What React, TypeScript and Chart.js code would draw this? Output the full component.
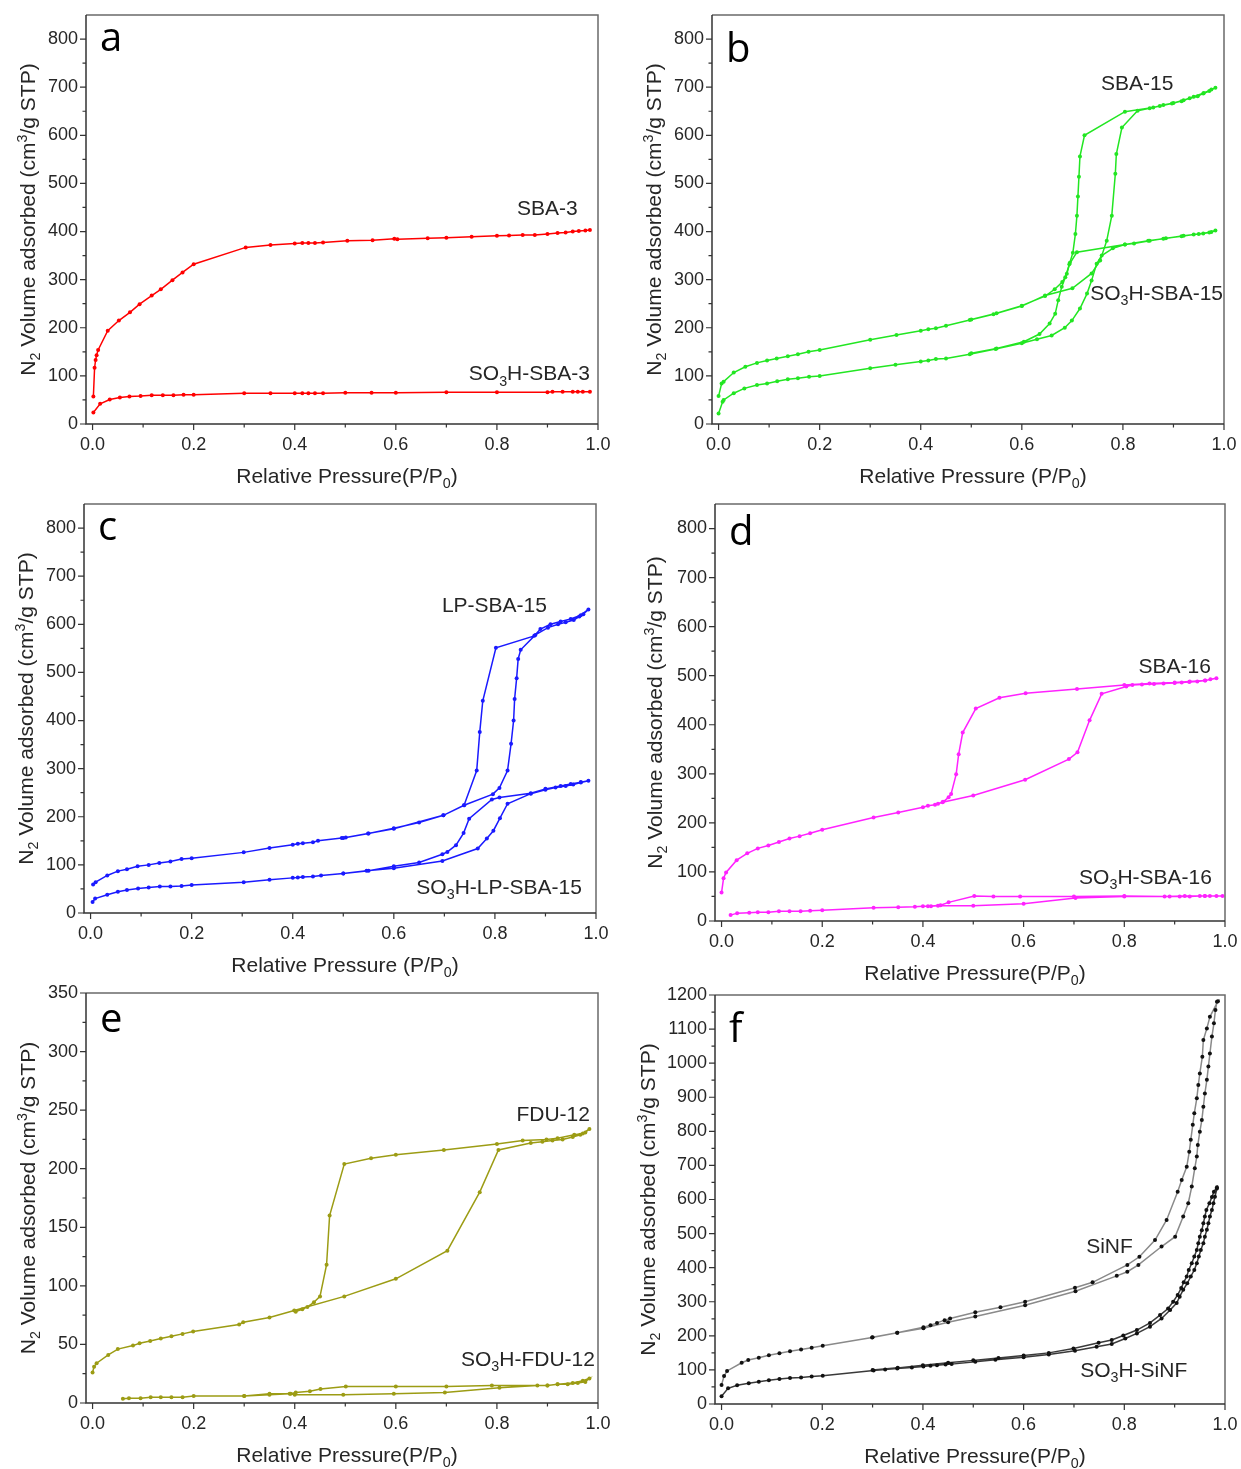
import React, { useEffect, useRef } from 'react';
import { Chart, registerables } from 'chart.js';

Chart.register(...registerables);

const FONT = "'Liberation Sans', Arial, sans-serif";
const LETTER_FONT = "'Open Sans', 'Noto Sans', sans-serif";

// ---- tick values ----
const X_TICKS = [0, 0.2, 0.4, 0.6, 0.8, 1.0];
const X_MINOR = [0.1, 0.3, 0.5, 0.7, 0.9];
const Y_TICKS_800 = [0, 100, 200, 300, 400, 500, 600, 700, 800];
const Y_MINOR_800 = [50, 150, 250, 350, 450, 550, 650, 750];
const Y_TICKS_350 = [0, 50, 100, 150, 200, 250, 300, 350];
const Y_MINOR_350 = [25, 75, 125, 175, 225, 275, 325];
const Y_TICKS_1200 = [0, 100, 200, 300, 400, 500, 600, 700, 800, 900, 1000, 1100, 1200];
const Y_MINOR_1200 = [50, 150, 250, 350, 450, 550, 650, 750, 850, 950, 1050, 1150];

// ---- (a) SBA-3 ----
const SBA3_P = [0.0016, 0.004, 0.006, 0.008, 0.011, 0.03, 0.052, 0.074, 0.093, 0.117, 0.135, 0.158, 0.178, 0.2, 0.303, 0.352, 0.4, 0.415, 0.427, 0.44, 0.456, 0.504, 0.554, 0.597, 0.603, 0.663, 0.7, 0.75, 0.8, 0.824, 0.851, 0.875, 0.9, 0.92, 0.936, 0.95, 0.962, 0.975, 0.984];
const SBA3_V = [57, 117, 133, 143, 154, 194, 215, 232, 249, 267, 280, 299, 315, 332, 367, 372, 375, 376, 376, 376, 377, 381, 382, 385, 384, 386, 387, 389, 391, 392, 393, 393, 395, 397, 398, 400, 401, 402, 403];
const SO3H_SBA3_P = [0.0016, 0.015, 0.034, 0.054, 0.073, 0.095, 0.117, 0.139, 0.16, 0.18, 0.2, 0.3, 0.352, 0.4, 0.415, 0.427, 0.44, 0.456, 0.5, 0.552, 0.6, 0.7, 0.8, 0.9, 0.91, 0.93, 0.95, 0.96, 0.97, 0.984];
const SO3H_SBA3_V = [24, 42, 51, 55, 57, 58, 60, 60, 60, 61, 61, 64, 64, 64, 64, 64, 64, 64, 65, 65, 65, 66, 66, 66, 67, 67, 67, 67, 67, 67];

// ---- (b) SBA-15 ----
const SBA15_ADS_P = [0, 0.006, 0.01, 0.03, 0.053, 0.076, 0.096, 0.115, 0.137, 0.157, 0.178, 0.2, 0.3, 0.352, 0.4, 0.415, 0.43, 0.45, 0.497, 0.544, 0.6, 0.646, 0.7, 0.738, 0.755, 0.768, 0.778, 0.785, 0.787, 0.798, 0.829, 0.853, 0.873, 0.897, 0.916, 0.932, 0.948, 0.959, 0.971, 0.983];
const SBA15_ADS_V = [58, 84, 88, 107, 119, 127, 132, 136, 141, 145, 150, 154, 175, 185, 194, 197, 199, 204, 216, 228, 245, 267, 282, 313, 340, 381, 433, 520, 561, 616, 651, 656, 661, 666, 671, 677, 681, 687, 692, 699];
const SBA15_DES_P = [0.975, 0.96, 0.94, 0.92, 0.9, 0.88, 0.86, 0.804, 0.724, 0.715, 0.713, 0.711, 0.709, 0.706, 0.701, 0.695, 0.689, 0.68, 0.665, 0.646, 0.6, 0.55, 0.5];
const SBA15_DES_V = [695, 688, 680, 673, 667, 663, 658, 649, 600, 556, 514, 473, 433, 395, 356, 335, 312, 295, 280, 266, 246, 230, 217];
const SO3H_SBA15_ADS_P = [0, 0.008, 0.01, 0.03, 0.051, 0.076, 0.096, 0.116, 0.137, 0.157, 0.179, 0.2, 0.3, 0.35, 0.4, 0.415, 0.43, 0.45, 0.497, 0.548, 0.6, 0.63, 0.659, 0.685, 0.699, 0.715, 0.729, 0.738, 0.748, 0.758, 0.78, 0.804, 0.822, 0.853, 0.885, 0.916, 0.94, 0.959, 0.971, 0.983];
const SO3H_SBA15_ADS_V = [22, 46, 50, 64, 74, 81, 84, 89, 93, 95, 98, 100, 116, 123, 130, 132, 135, 136, 145, 156, 168, 176, 184, 200, 215, 240, 271, 298, 333, 350, 365, 373, 375, 381, 386, 390, 394, 396, 398, 402];
const SO3H_SBA15_DES_P = [0.975, 0.95, 0.92, 0.88, 0.85, 0.804, 0.709, 0.694, 0.686, 0.679, 0.672, 0.666, 0.655, 0.635, 0.604, 0.55, 0.5];
const SO3H_SBA15_DES_V = [399, 395, 391, 385, 381, 373, 357, 332, 305, 285, 257, 229, 209, 187, 171, 157, 147];

// ---- (c) LP-SBA-15 ----
const LP_ADS_P = [0.005, 0.01, 0.033, 0.054, 0.072, 0.093, 0.115, 0.136, 0.158, 0.18, 0.2, 0.303, 0.354, 0.4, 0.41, 0.42, 0.44, 0.45, 0.497, 0.505, 0.549, 0.6, 0.698, 0.739, 0.796, 0.809, 0.825, 0.832, 0.837, 0.839, 0.843, 0.846, 0.851, 0.88, 0.905, 0.925, 0.94, 0.956, 0.967, 0.975, 0.985];
const LP_ADS_V = [59, 64, 78, 87, 91, 97, 100, 104, 107, 112, 114, 126, 135, 142, 144, 145, 147, 150, 156, 157, 165, 175, 203, 224, 247, 260, 296, 352, 400, 445, 488, 528, 547, 578, 593, 600, 604, 609, 616, 621, 631];
const LP_DES_P = [0.97, 0.95, 0.93, 0.91, 0.89, 0.878, 0.802, 0.776, 0.77, 0.764, 0.739, 0.698, 0.65, 0.6, 0.55, 0.5];
const LP_DES_V = [619, 611, 606, 600, 590, 576, 551, 441, 376, 296, 224, 203, 188, 176, 165, 156];
const SO3H_LP_ADS_P = [0.004, 0.009, 0.033, 0.054, 0.072, 0.094, 0.115, 0.137, 0.158, 0.18, 0.2, 0.303, 0.354, 0.4, 0.41, 0.42, 0.44, 0.456, 0.5, 0.546, 0.6, 0.696, 0.766, 0.784, 0.797, 0.81, 0.825, 0.871, 0.9, 0.92, 0.94, 0.955, 0.97, 0.985];
const SO3H_LP_ADS_V = [23, 30, 38, 44, 48, 51, 53, 55, 55, 56, 58, 64, 69, 73, 74, 75, 76, 78, 82, 88, 93, 108, 134, 155, 171, 197, 227, 248, 256, 261, 264, 267, 271, 275];
const SO3H_LP_DES_P = [0.97, 0.95, 0.93, 0.9, 0.871, 0.809, 0.794, 0.749, 0.738, 0.723, 0.706, 0.696, 0.65, 0.6, 0.55, 0.5];
const SO3H_LP_DES_V = [272, 268, 264, 258, 249, 240, 236, 196, 166, 141, 127, 122, 105, 97, 88, 82];

// ---- (d) SBA-16 ----
const SBA16_ADS_P = [0, 0.004, 0.009, 0.03, 0.051, 0.072, 0.093, 0.114, 0.135, 0.155, 0.176, 0.2, 0.302, 0.351, 0.4, 0.41, 0.424, 0.439, 0.5, 0.603, 0.69, 0.707, 0.731, 0.755, 0.804, 0.816, 0.835, 0.859, 0.878, 0.9, 0.914, 0.929, 0.945, 0.961, 0.971, 0.983];
const SBA16_ADS_V = [58, 87, 99, 124, 138, 148, 154, 161, 168, 173, 179, 186, 211, 221, 232, 235, 237, 242, 256, 288, 330, 344, 409, 463, 478, 481, 482, 483, 484, 485, 486, 487, 488, 490, 493, 495];
const SBA16_DES_P = [0.96, 0.93, 0.9, 0.85, 0.8, 0.706, 0.604, 0.552, 0.505, 0.479, 0.471, 0.466, 0.456, 0.451, 0.44, 0.43];
const SBA16_DES_V = [490, 488, 486, 484, 481, 473, 464, 455, 433, 384, 340, 299, 259, 252, 243, 239];
const SO3H_SBA16_ADS_P = [0.018, 0.031, 0.055, 0.072, 0.093, 0.114, 0.135, 0.157, 0.176, 0.2, 0.302, 0.351, 0.384, 0.4, 0.416, 0.43, 0.5, 0.6, 0.703, 0.8, 0.89, 0.91, 0.93, 0.95, 0.96, 0.97, 0.983, 0.995];
const SO3H_SBA16_ADS_V = [12, 16, 17, 18, 18, 20, 20, 20, 21, 22, 27, 28, 29, 30, 30, 31, 31, 35, 47, 50, 50, 50, 50, 51, 51, 51, 51, 51];
const SO3H_SBA16_DES_P = [0.96, 0.92, 0.88, 0.8, 0.7, 0.593, 0.54, 0.502, 0.451, 0.435, 0.41];
const SO3H_SBA16_DES_V = [51, 51, 50, 51, 50, 50, 50, 51, 38, 32, 30];

// ---- (e) FDU-12 ----
const FDU12_ADS_P = [0, 0.003, 0.008, 0.031, 0.05, 0.08, 0.093, 0.114, 0.135, 0.156, 0.178, 0.199, 0.29, 0.298, 0.35, 0.399, 0.498, 0.6, 0.702, 0.766, 0.803, 0.867, 0.89, 0.91, 0.93, 0.95, 0.965, 0.975, 0.983];
const FDU12_ADS_V = [26, 31, 34, 41, 46, 49, 51, 53, 55, 57, 59, 61, 67, 69, 73, 79, 91, 106, 130, 180, 216, 222, 223, 224, 225, 227, 229, 231, 234];
const FDU12_DES_P = [0.97, 0.953, 0.92, 0.898, 0.851, 0.8, 0.695, 0.6, 0.551, 0.498, 0.469, 0.463, 0.45, 0.438, 0.425, 0.415, 0.402];
const FDU12_DES_V = [230, 229, 226, 225, 224, 221, 216, 212, 209, 204, 160, 118, 91, 86, 82, 80, 78];
const SO3H_FDU12_ADS_P = [0.06, 0.072, 0.095, 0.115, 0.135, 0.156, 0.178, 0.2, 0.3, 0.35, 0.39, 0.4, 0.496, 0.596, 0.697, 0.805, 0.88, 0.9, 0.92, 0.94, 0.96, 0.975, 0.983];
const SO3H_FDU12_ADS_V = [3.7, 4, 4, 5, 5, 5, 5, 6, 6, 7, 8, 7, 7, 8, 9, 13, 15, 15, 16, 16, 17, 18, 21];
const SO3H_FDU12_DES_P = [0.97, 0.95, 0.92, 0.9, 0.79, 0.7, 0.6, 0.501, 0.451, 0.43, 0.402, 0.392, 0.35, 0.3];
const SO3H_FDU12_DES_V = [19, 17, 16, 15, 15, 14, 14, 14, 12, 10, 9, 8, 8, 6];

// ---- (f) SiNF ----
const SINF_ADS_P = [0, 0.005, 0.011, 0.04, 0.053, 0.074, 0.094, 0.115, 0.136, 0.158, 0.179, 0.201, 0.299, 0.349, 0.401, 0.45, 0.504, 0.603, 0.703, 0.785, 0.806, 0.828, 0.874, 0.901, 0.917, 0.927, 0.934, 0.94, 0.944, 0.946, 0.95, 0.954, 0.957, 0.96, 0.964, 0.967, 0.97, 0.974, 0.978, 0.981, 0.984];
const SINF_ADS_V = [56, 82, 97, 121, 129, 136, 143, 149, 155, 160, 165, 171, 195, 209, 222, 240, 257, 290, 331, 376, 388, 408, 462, 491, 550, 589, 638, 692, 726, 760, 799, 833, 872, 911, 951, 990, 1028, 1078, 1117, 1156, 1180];
const SINF_DES_P = [0.986, 0.97, 0.964, 0.957, 0.955, 0.95, 0.947, 0.944, 0.939, 0.936, 0.932, 0.929, 0.924, 0.914, 0.906, 0.884, 0.861, 0.83, 0.806, 0.737, 0.702, 0.603, 0.554, 0.504, 0.454, 0.443, 0.428, 0.415, 0.401, 0.349, 0.3];
const SINF_DES_V = [1182, 1136, 1102, 1068, 1019, 970, 936, 897, 853, 819, 775, 740, 696, 657, 623, 540, 481, 432, 408, 357, 341, 300, 284, 269, 251, 246, 238, 231, 225, 209, 196];
const SO3H_SINF_ADS_P = [0, 0.013, 0.031, 0.054, 0.074, 0.094, 0.115, 0.136, 0.158, 0.179, 0.201, 0.302, 0.325, 0.349, 0.378, 0.401, 0.415, 0.428, 0.445, 0.457, 0.504, 0.544, 0.6, 0.65, 0.702, 0.745, 0.775, 0.802, 0.825, 0.851, 0.874, 0.891, 0.904, 0.91, 0.917, 0.925, 0.932, 0.939, 0.944, 0.948, 0.952, 0.957, 0.96, 0.964, 0.967, 0.97, 0.974, 0.977, 0.98, 0.984];
const SO3H_SINF_ADS_V = [23, 46, 55, 61, 65, 70, 73, 76, 78, 81, 83, 98, 101, 104, 107, 110, 112, 114, 116, 117, 124, 130, 137, 145, 156, 168, 176, 192, 207, 227, 251, 276, 296, 315, 335, 354, 374, 393, 413, 433, 452, 472, 491, 511, 530, 550, 569, 589, 608, 632];
const SO3H_SINF_DES_P = [0.984, 0.978, 0.974, 0.969, 0.963, 0.96, 0.957, 0.954, 0.95, 0.947, 0.944, 0.939, 0.934, 0.928, 0.924, 0.918, 0.913, 0.906, 0.897, 0.887, 0.871, 0.851, 0.825, 0.798, 0.775, 0.749, 0.699, 0.65, 0.6, 0.55, 0.5, 0.45, 0.4, 0.35, 0.3];
const SO3H_SINF_DES_V = [636, 623, 607, 589, 569, 550, 530, 510, 491, 472, 452, 433, 413, 393, 374, 357, 340, 320, 300, 280, 261, 238, 217, 201, 188, 180, 163, 150, 142, 135, 128, 121, 114, 106, 100];

// ---- colours ----
const RED = '#ff0000';
const GREEN = '#22e622';
const BLUE = '#1a1aff';
const MAGENTA = '#ff22ff';
const OLIVE = '#9c9c14';
const GRAY_LINE = '#8a8a8a';
const DARK_LINE = '#3a3a3a';
const BLACK_PT = '#111111';
const TEXT = '#262626';

type Series = { name: string; P: number[]; V: number[]; line: string; point: string };
type Label = { text: string; x: number; y: number };
type PanelCfg = {
  cx: number; cy: number; w: number; h: number;
  L: number; T: number; R: number; B: number;
  yMax: number; yTicks: number[]; yMinor: number[];
  xTitle: string; yTitleDx: number;
  letter: string; letterDy: number;
  series: Series[]; labels: Label[];
};

const Y_TITLE = 'N_{2} Volume adsorbed (cm^{3}/g STP)';

const PANELS: PanelCfg[] = [
  {
    cx: 0, cy: 0, w: 620, h: 490, L: 86, T: 15, R: 598, B: 424,
    yMax: 850, yTicks: Y_TICKS_800, yMinor: Y_MINOR_800,
    xTitle: 'Relative Pressure(P/P_{0})', yTitleDx: 59, letter: 'a', letterDy: 36,
    series: [
      { name: 'SBA-3', P: SBA3_P, V: SBA3_V, line: RED, point: RED },
      { name: 'SO3H-SBA-3', P: SO3H_SBA3_P, V: SO3H_SBA3_V, line: RED, point: RED },
    ],
    labels: [{ text: 'SBA-3', x: 0.96, y: 450 }, { text: 'SO_{3}H-SBA-3', x: 0.984, y: 106 }],
  },
  {
    cx: 620, cy: 0, w: 621, h: 490, L: 712, T: 15, R: 1224, B: 424,
    yMax: 850, yTicks: Y_TICKS_800, yMinor: Y_MINOR_800,
    xTitle: 'Relative Pressure (P/P_{0})', yTitleDx: 59, letter: 'b', letterDy: 47,
    series: [
      { name: 'SBA-15', P: [...SBA15_ADS_P, ...SBA15_DES_P], V: [...SBA15_ADS_V, ...SBA15_DES_V], line: GREEN, point: GREEN },
      { name: 'SO3H-SBA-15', P: [...SO3H_SBA15_ADS_P, ...SO3H_SBA15_DES_P], V: [...SO3H_SBA15_ADS_V, ...SO3H_SBA15_DES_V], line: GREEN, point: GREEN },
    ],
    labels: [{ text: 'SBA-15', x: 0.9, y: 709 }, { text: 'SO_{3}H-SBA-15', x: 0.998, y: 274 }],
  },
  {
    cx: 0, cy: 490, w: 620, h: 490, L: 84, T: 504, R: 596, B: 913,
    yMax: 850, yTicks: Y_TICKS_800, yMinor: Y_MINOR_800,
    xTitle: 'Relative Pressure (P/P_{0})', yTitleDx: 59, letter: 'c', letterDy: 36,
    series: [
      { name: 'LP-SBA-15', P: [...LP_ADS_P, ...LP_DES_P], V: [...LP_ADS_V, ...LP_DES_V], line: BLUE, point: BLUE },
      { name: 'SO3H-LP-SBA-15', P: [...SO3H_LP_ADS_P, ...SO3H_LP_DES_P], V: [...SO3H_LP_ADS_V, ...SO3H_LP_DES_V], line: BLUE, point: BLUE },
    ],
    labels: [{ text: 'LP-SBA-15', x: 0.903, y: 642 }, { text: 'SO_{3}H-LP-SBA-15', x: 0.972, y: 56 }],
  },
  {
    cx: 620, cy: 490, w: 621, h: 502, L: 715, T: 504, R: 1225, B: 921,
    yMax: 850, yTicks: Y_TICKS_800, yMinor: Y_MINOR_800,
    xTitle: 'Relative Pressure(P/P_{0})', yTitleDx: 61, letter: 'd', letterDy: 41,
    series: [
      { name: 'SBA-16', P: [...SBA16_ADS_P, ...SBA16_DES_P], V: [...SBA16_ADS_V, ...SBA16_DES_V], line: MAGENTA, point: MAGENTA },
      { name: 'SO3H-SBA-16', P: [...SO3H_SBA16_ADS_P, ...SO3H_SBA16_DES_P], V: [...SO3H_SBA16_ADS_V, ...SO3H_SBA16_DES_V], line: MAGENTA, point: MAGENTA },
    ],
    labels: [{ text: 'SBA-16', x: 0.972, y: 520 }, { text: 'SO_{3}H-SBA-16', x: 0.974, y: 90 }],
  },
  {
    cx: 0, cy: 980, w: 620, h: 489, L: 86, T: 993, R: 598, B: 1403,
    yMax: 350, yTicks: Y_TICKS_350, yMinor: Y_MINOR_350,
    xTitle: 'Relative Pressure(P/P_{0})', yTitleDx: 59, letter: 'e', letterDy: 39,
    series: [
      { name: 'FDU-12', P: [...FDU12_ADS_P, ...FDU12_DES_P], V: [...FDU12_ADS_V, ...FDU12_DES_V], line: OLIVE, point: OLIVE },
      { name: 'SO3H-FDU-12', P: [...SO3H_FDU12_ADS_P, ...SO3H_FDU12_DES_P], V: [...SO3H_FDU12_ADS_V, ...SO3H_FDU12_DES_V], line: OLIVE, point: OLIVE },
    ],
    labels: [{ text: 'FDU-12', x: 0.984, y: 247 }, { text: 'SO_{3}H-FDU-12', x: 0.994, y: 37.6 }],
  },
  {
    cx: 620, cy: 980, w: 621, h: 489, L: 715, T: 995, R: 1225, B: 1404,
    yMax: 1200, yTicks: Y_TICKS_1200, yMinor: Y_MINOR_1200,
    xTitle: 'Relative Pressure(P/P_{0})', yTitleDx: 68, letter: 'f', letterDy: 47,
    series: [
      { name: 'SiNF', P: [...SINF_ADS_P, ...SINF_DES_P], V: [...SINF_ADS_V, ...SINF_DES_V], line: GRAY_LINE, point: BLACK_PT },
      { name: 'SO3H-SiNF', P: [...SO3H_SINF_ADS_P, ...SO3H_SINF_DES_P], V: [...SO3H_SINF_ADS_V, ...SO3H_SINF_DES_V], line: DARK_LINE, point: BLACK_PT },
    ],
    labels: [{ text: 'SiNF', x: 0.817, y: 464 }, { text: 'SO_{3}H-SiNF', x: 0.925, y: 100 }],
  },
];

type Seg = { t: string; k: number };
function parseRich(s: string): Seg[] {
  const out: Seg[] = [];
  let buf = '';
  let i = 0;
  while (i < s.length) {
    if ((s[i] === '_' || s[i] === '^') && s[i + 1] === '{') {
      if (buf) { out.push({ t: buf, k: 0 }); buf = ''; }
      const end = s.indexOf('}', i);
      out.push({ t: s.slice(i + 2, end), k: s[i] === '_' ? 1 : -1 });
      i = end + 1;
    } else {
      buf += s[i];
      i++;
    }
  }
  if (buf) out.push({ t: buf, k: 0 });
  return out;
}

function drawRich(ctx: CanvasRenderingContext2D, text: string, x: number, y: number, size: number, align: string) {
  const segs = parseRich(text);
  const small = size * 0.68;
  const widths = segs.map((sg) => {
    ctx.font = `${sg.k ? small : size}px ${FONT}`;
    return ctx.measureText(sg.t).width;
  });
  const total = widths.reduce((a, b) => a + b, 0);
  let cx = align === 'left' ? x : align === 'center' ? x - total / 2 : x - total;
  ctx.textAlign = 'left';
  ctx.textBaseline = 'alphabetic';
  segs.forEach((sg, i) => {
    ctx.font = `${sg.k ? small : size}px ${FONT}`;
    const dy = sg.k === 1 ? size * 0.24 : sg.k === -1 ? -size * 0.36 : 0;
    ctx.fillText(sg.t, cx, y + dy);
    cx += widths[i];
  });
}

const decorPlugin = {
  id: 'decor',
  afterDraw(chart: any, _args: any, opts: any) {
    const cfg: PanelCfg = opts.cfg;
    const ctx: CanvasRenderingContext2D = chart.ctx;
    const { left, right, top, bottom } = chart.chartArea;
    const xs = chart.scales.x;
    const ys = chart.scales.y;
    ctx.save();
    // frame
    ctx.lineWidth = 1.5;
    ctx.strokeStyle = '#6a6a6a';
    ctx.beginPath();
    ctx.moveTo(left, top); ctx.lineTo(right, top); ctx.lineTo(right, bottom);
    ctx.stroke();
    ctx.strokeStyle = '#333333';
    ctx.beginPath();
    ctx.moveTo(left, top); ctx.lineTo(left, bottom); ctx.lineTo(right, bottom);
    ctx.stroke();
    // ticks
    ctx.lineWidth = 1.2;
    ctx.beginPath();
    X_TICKS.forEach((v) => { const p = xs.getPixelForValue(v); ctx.moveTo(p, bottom); ctx.lineTo(p, bottom + 6); });
    X_MINOR.forEach((v) => { const p = xs.getPixelForValue(v); ctx.moveTo(p, bottom); ctx.lineTo(p, bottom + 3.5); });
    cfg.yTicks.forEach((v) => { const p = ys.getPixelForValue(v); ctx.moveTo(left, p); ctx.lineTo(left - 6, p); });
    cfg.yMinor.forEach((v) => { const p = ys.getPixelForValue(v); ctx.moveTo(left, p); ctx.lineTo(left - 3.5, p); });
    ctx.stroke();
    // titles
    ctx.fillStyle = TEXT;
    drawRich(ctx, cfg.xTitle, (left + right) / 2 + 5, bottom + 59, 21, 'center');
    ctx.save();
    ctx.translate(left - cfg.yTitleDx, (top + bottom) / 2);
    ctx.rotate(-Math.PI / 2);
    drawRich(ctx, Y_TITLE, 0, 7.5, 21, 'center');
    ctx.restore();
    // panel letter
    ctx.font = `40px ${LETTER_FONT}`;
    ctx.textAlign = 'left';
    ctx.textBaseline = 'alphabetic';
    ctx.fillStyle = '#000000';
    ctx.fillText(cfg.letter, left + 14, top + cfg.letterDy);
    // sample labels
    ctx.fillStyle = TEXT;
    cfg.labels.forEach((lb) => {
      drawRich(ctx, lb.text, xs.getPixelForValue(lb.x), ys.getPixelForValue(lb.y) + 7.5, 21, 'right');
    });
    ctx.restore();
  },
};

function Panel({ cfg }: { cfg: PanelCfg }) {
  const ref = useRef<HTMLCanvasElement>(null);
  useEffect(() => {
    const canvas = ref.current;
    if (!canvas) return;
    const chart = new Chart(canvas, {
      type: 'scatter',
      data: {
        datasets: cfg.series.map((s) => ({
          label: s.name,
          data: s.P.map((p, i) => ({ x: p, y: s.V[i] })),
          showLine: true,
          borderColor: s.line,
          backgroundColor: s.point,
          pointBackgroundColor: s.point,
          pointBorderColor: s.point,
          borderWidth: 1.5,
          pointRadius: 2,
          pointBorderWidth: 0,
          pointHoverRadius: 2,
          tension: 0,
        })),
      },
      options: {
        animation: false,
        responsive: false,
        maintainAspectRatio: false,
        events: [],
        layout: { padding: { left: 0, top: cfg.T - cfg.cy, right: cfg.cx + cfg.w - cfg.R, bottom: 0 } },
        plugins: {
          legend: { display: false },
          tooltip: { enabled: false },
          decor: { cfg },
        } as any,
        scales: {
          x: {
            type: 'linear',
            min: -0.013,
            max: 1.0,
            afterBuildTicks: (s: any) => { s.ticks = X_TICKS.map((v) => ({ value: v })); },
            afterFit: (s: any) => { s.height = cfg.cy + cfg.h - cfg.B; },
            grid: { display: false, drawTicks: true, tickLength: 9 },
            border: { display: false },
            ticks: {
              font: { size: 18, family: FONT },
              color: TEXT,
              padding: 1,
              maxRotation: 0,
              autoSkip: false,
              callback: (v: any) => Number(v).toFixed(1),
            },
          },
          y: {
            type: 'linear',
            min: 0,
            max: cfg.yMax,
            afterBuildTicks: (s: any) => { s.ticks = cfg.yTicks.map((v) => ({ value: v })); },
            afterFit: (s: any) => { s.width = cfg.L - cfg.cx; },
            grid: { display: false, drawTicks: true, tickLength: 7 },
            border: { display: false },
            ticks: {
              font: { size: 18, family: FONT },
              color: TEXT,
              padding: 1,
              autoSkip: false,
              callback: (v: any) => String(v),
            },
          },
        },
      } as any,
      plugins: [decorPlugin],
    });
    return () => chart.destroy();
  }, [cfg]);
  return (
    <canvas
      ref={ref}
      width={cfg.w}
      height={cfg.h}
      style={{ position: 'absolute', left: cfg.cx, top: cfg.cy, width: cfg.w, height: cfg.h }}
    />
  );
}

export default function App() {
  return (
    <div style={{ position: 'absolute', left: 0, top: 0, width: 1241, height: 1469, background: '#ffffff' }}>
      {PANELS.map((p, i) => (
        <Panel key={i} cfg={p} />
      ))}
    </div>
  );
}
